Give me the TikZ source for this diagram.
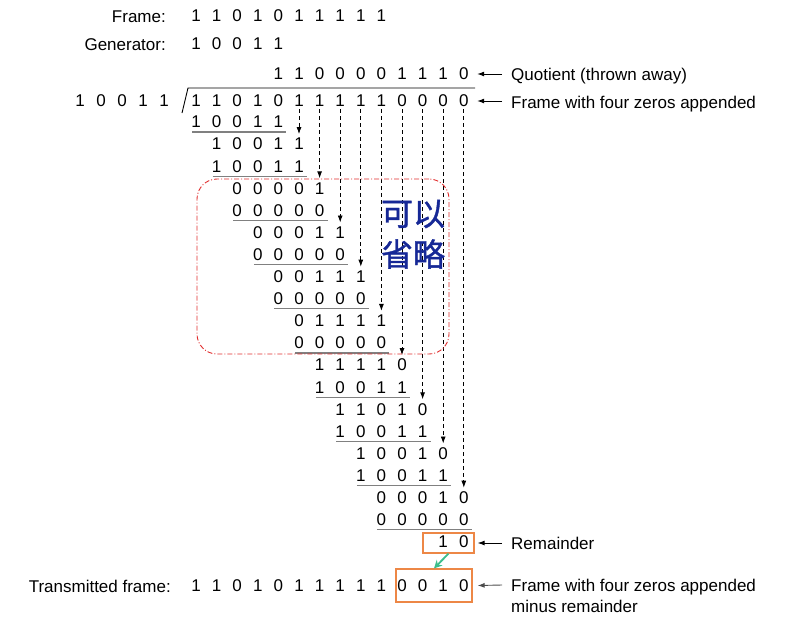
\documentclass[tikz,border=0pt]{standalone}
\usepackage{fontspec}
\setmainfont{Liberation Sans}
\newfontfamily\cjkfont{Noto Sans CJK SC}[FakeBold=1.2]
\usetikzlibrary{arrows.meta}
\definecolor{boxorange}{RGB}{237,135,70}
\definecolor{arrgreen}{RGB}{60,190,140}
\definecolor{omitred}{RGB}{225,45,45}
\definecolor{cjkblue}{RGB}{22,40,150}
\newcommand\bitrow[7]{%
  \foreach \b [count=\j from 0] in {#3,#4,#5,#6,#7} {%
    \node[bit] (s#1-\j) at ({196+20.6*(#2+\j)},{122+22.1*#1}) {\b};}
  \ifodd#1\relax\else
    \draw[rulel] ([shift={(-4,10)}]s#1-0.center) -- ([shift={(8,10)}]s#1-4.center);
  \fi}
\begin{document}
\begin{tikzpicture}[x=1pt,y=-1pt,
  font=\fontsize{17}{20}\selectfont,
  bit/.style={inner sep=0pt, anchor=center},
  rulel/.style={draw=black!50, line width=1.2pt},
  dasharrow/.style={draw=black, line width=0.9pt, dash pattern=on 4pt off 3pt,
    -{Latex[length=7pt,width=5pt]}},
  notearrow/.style={draw=black, line width=0.9pt, -{Latex[length=7pt,width=5pt]}},
  note/.style={inner sep=0pt, anchor=base west},
  lbl/.style={inner sep=0pt, anchor=base east},
  obox/.style={draw=boxorange, line width=1.3pt, inner sep=0pt},
  redbox/.style={draw=omitred, line width=0.9pt, dash pattern=on 5pt off 2pt on 1pt off 2pt,
    rounded corners=20pt, inner sep=0pt},
  cjk/.style={inner sep=0pt, text=cjkblue, font=\cjkfont\fontsize{32}{34}\selectfont}
]
\useasboundingbox (0,0) rectangle (800,624);

% labels
\node[lbl] (lframe) at (166,22) {Frame:};
\node[lbl] (lgen) at (166,50) {Generator:};
\node[lbl] (ltx) at (171,592) {Transmitted frame:};

% frame and generator
\foreach \b [count=\i from 0] in {1,1,0,1,0,1,1,1,1,1}
  \node[bit] (f\i) at ({196+20.6*\i},16) {\b};
\foreach \b [count=\i from 0] in {1,0,0,1,1}
  \node[bit] (g\i) at ({196+20.6*\i},44) {\b};

% quotient
\foreach \b [count=\i from 4] in {1,1,0,0,0,0,1,1,1,0}
  \node[bit] (q\i) at ({196+20.6*\i},74) {\b};

% divisor
\foreach \b [count=\i from 0] in {1,0,0,1,1}
  \node[bit] (dz\i) at ({80+21*\i},101) {\b};

% dividend
\foreach \b [count=\i from 0] in {1,1,0,1,0,1,1,1,1,1,0,0,0,0}
  \node[bit] (dv\i) at ({196+20.6*\i},101) {\b};

% division bracket
\coordinate (bk0) at (182,113);
\coordinate (bk1) at (188,88);
\coordinate (bk2) at (475,88);
\draw[line width=0.9pt] (bk0) -- (bk1) -- (bk2);

% long division rows
\bitrow{0}{0}10011
\bitrow{1}{1}10011
\bitrow{2}{1}10011
\bitrow{3}{2}00001
\bitrow{4}{2}00000
\bitrow{5}{3}00011
\bitrow{6}{3}00000
\bitrow{7}{4}00111
\bitrow{8}{4}00000
\bitrow{9}{5}01111
\bitrow{10}{5}00000
\bitrow{11}{6}11110
\bitrow{12}{6}10011
\bitrow{13}{7}11010
\bitrow{14}{7}10011
\bitrow{15}{8}10010
\bitrow{16}{8}10011
\bitrow{17}{9}00010
\bitrow{18}{9}00000

% brought-down bits
\foreach \k in {5,...,13} {
  \pgfmathtruncatemacro\m{2*\k-9}
  \coordinate (e\k) at ({196+20.6*\k},{122+22.1*\m-10});
  \draw[dasharrow] ([yshift=-2pt]dv\k.south) -- (e\k);
}

% remainder
\node[bit] (rm12) at ({196+20.6*12},542) {1};
\node[bit] (rm13) at ({196+20.6*13},542) {0};
\node[obox, minimum width=51pt, minimum height=20pt] (rbox) at (448.5,543) {};

% transmitted frame
\foreach \b [count=\i from 0] in {1,1,0,1,0,1,1,1,1,1,0,0,1,0}
  \node[bit] (t\i) at ({196+20.6*\i},586) {\b};
\node[obox, minimum width=76pt, minimum height=33pt] (tbox) at (434,585.5) {};

\draw[line width=1.8pt, draw=arrgreen, -{Stealth[length=8pt,width=8pt]}] (rbox.south) -- (tbox.north);

% notes
\node[note] (nq) at (511,80) {Quotient (thrown away)};
\node[note] (nf) at (511,108) {Frame with four zeros appended};
\node[note] (nr) at (511,549) {Remainder};
\node[note] (nt) at (511,591) {Frame with four zeros appended};
\node[note] (nt2) at (511,612) {minus remainder};
\draw[notearrow] (502,74) -- ([xshift=8.5pt]q13.east);
\draw[notearrow] (502,101) -- ([xshift=8.5pt]dv13.east);
\draw[notearrow] (502,543) -- ([xshift=3pt]rbox.east);
\draw[notearrow, draw=black!70] (502,585) -- ([xshift=5pt]tbox.east);

% omitted region
\node[redbox, minimum width=252pt, minimum height=175pt] (omit) at (323,266.5) {};
\node[cjk] (c1) at (413,214) {可以};
\node[cjk] (c2) at (413,254) {省略};
\end{tikzpicture}
\end{document}
